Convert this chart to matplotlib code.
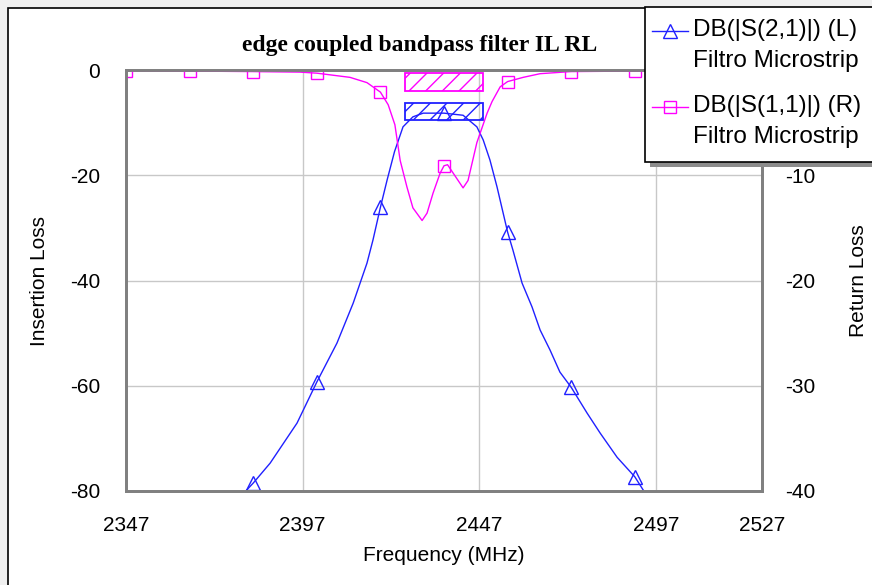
import matplotlib
matplotlib.use("Agg")
import matplotlib.pyplot as plt
from matplotlib.patches import Rectangle
from matplotlib.lines import Line2D

# frequency points (MHz) and their values (dB)
s21_freq = [2379.5, 2383, 2387.8, 2395.4, 2401, 2406.7, 2411.3, 2415.2, 2416.9,
            2419, 2420.9, 2423.0, 2425.4, 2428.2, 2431.1, 2437, 2442.4, 2446.3,
            2448.1, 2450.0, 2452.0, 2455, 2456.5, 2459.1, 2461.9, 2464.2, 2467.0,
            2469.8, 2473, 2477.5, 2481.2, 2486.0, 2491, 2494.5]
s21_db = [-81.0, -78.5, -74.7, -67.1, -59.3, -51.9, -44.3, -36.7, -32.3,
          -26.1, -20.9, -15.5, -10.8, -8.9, -8.2, -8.2, -8.6, -10.8,
          -13.3, -17.1, -22.2, -30.8, -34.2, -40.5, -45.0, -49.4, -53.2,
          -57.4, -60.3, -65.2, -69.0, -73.6, -77.3, -81.0]

s11_freq = [2347, 2365, 2383, 2396.2, 2401, 2410.4, 2415.2, 2419, 2421.2, 2423.1,
            2424.6, 2426.5, 2428.2, 2430.8, 2432.2, 2433.9, 2435.9, 2437, 2438,
            2439.6, 2442.4, 2443.8, 2446.3, 2449.2, 2450.6, 2452.9, 2455, 2459.4,
            2464.2, 2473, 2491, 2509, 2527]
s11_db = [-0.05, -0.1, -0.15, -0.2, -0.3, -0.7, -1.2, -2.1, -3.3, -5.2,
          -8.6, -11.1, -13.1, -14.3, -13.6, -11.7, -9.8, -9.1, -9.0,
          -9.8, -11.2, -10.5, -6.9, -4.1, -3.0, -1.6, -1.1, -0.7,
          -0.35, -0.15, -0.1, -0.05, -0.05]

marker_freqs = [2347, 2365, 2383, 2401, 2419, 2437, 2455, 2473, 2491, 2509, 2527]

x_ticks = [2347, 2397, 2447, 2497, 2527]
left_ticks = [0, -20, -40, -60, -80]
right_ticks = [-10, -20, -30, -40]   # the 0 label sits under the legend

# goal boxes (frequency range, dB range)
goal_freq = [2426, 2448]
s21_goal = [-9.5, -6.3]
s11_goal = [-2.0, -0.3]

title = "edge coupled bandpass filter IL RL"
legend_s21 = ["DB(|S(2,1)|) (L)", "Filtro Microstrip"]
legend_s11 = ["DB(|S(1,1)|) (R)", "Filtro Microstrip"]

blue = "#2020ff"
magenta = "#ff00ff"
spine_gray = "#808080"
grid_gray = "#c8c8c8"

W, H = 872, 585


def fx(px):
    return px / W


def fy(py):
    return 1 - py / H


plt.rcParams["font.family"] = ["Liberation Sans", "DejaVu Sans"]
plt.rcParams["axes.unicode_minus"] = False

fig = plt.figure(figsize=(8.72, 5.85), dpi=100)
fig.patch.set_facecolor("#f0f0f0")
fig.patches.append(Rectangle((fx(8), -0.1), 1.2, fy(8) + 0.1,
                             transform=fig.transFigure, facecolor="white",
                             edgecolor="black", linewidth=1.2, zorder=-5))

ax1 = fig.add_axes([fx(126), 94 / H, 636 / W, 421 / H])
ax2 = ax1.twinx()

m21 = [i for i, f in enumerate(s21_freq) if f in marker_freqs]
m11 = [i for i, f in enumerate(s11_freq) if f in marker_freqs]

ax1.plot(s21_freq, s21_db, color=blue, lw=1, marker="^", markersize=10,
         markerfacecolor="none", markeredgecolor=blue, markevery=m21)
ax2.plot(s11_freq, s11_db, color=magenta, lw=1, marker="s", markersize=9,
         markerfacecolor="none", markeredgecolor=magenta, markevery=m11)

ax1.add_patch(Rectangle((goal_freq[0], s21_goal[0]), goal_freq[1] - goal_freq[0],
                        s21_goal[1] - s21_goal[0], facecolor="none",
                        edgecolor=blue, hatch="//", lw=1.3, zorder=3))
ax2.add_patch(Rectangle((goal_freq[0], s11_goal[0]), goal_freq[1] - goal_freq[0],
                        s11_goal[1] - s11_goal[0], facecolor="none",
                        edgecolor=magenta, hatch="//", lw=1.3, zorder=3))

ax1.set_xlim(2347, 2527)
ax1.set_ylim(-80, 0)
ax2.set_ylim(-40, 0)
ax1.set_xticks(x_ticks)
ax1.set_yticks(left_ticks)
ax2.set_yticks(right_ticks)
ax1.grid(True, color=grid_gray, lw=1)
ax1.set_axisbelow(True)

for ax in (ax1, ax2):
    for s in ax.spines.values():
        s.set_color(spine_gray)
        s.set_linewidth(2)
    ax.tick_params(length=0, labelsize=15)
ax1.tick_params(axis="y", pad=18.5)
ax1.tick_params(axis="x", pad=18)
ax2.tick_params(axis="y", pad=17)
ax2.patch.set_visible(False)

ax1.set_xlabel("Frequency (MHz)", fontsize=15, labelpad=8)
ax1.set_ylabel("Insertion Loss", fontsize=15, labelpad=15)
ax2.set_ylabel("Return Loss", fontsize=15, labelpad=24)

fig.text(fx(420), fy(46), title, ha="center", va="center",
         fontsize=17, fontweight="bold", family="Liberation Serif")

# legend box drawn by hand so the handle sits on the first text line
fig.patches.append(Rectangle((fx(650), fy(167)), 0.4, fy(12) - fy(167),
                             transform=fig.transFigure, facecolor="#8c8c8c",
                             edgecolor="none", zorder=10))
fig.patches.append(Rectangle((fx(645), fy(162)), 0.4, fy(7) - fy(162),
                             transform=fig.transFigure, facecolor="white",
                             edgecolor="black", lw=1.2, zorder=11))
for color, mk, ms, texts, y0 in [(blue, "^", 10, legend_s21, 30),
                                 (magenta, "s", 9, legend_s11, 106)]:
    fig.lines.append(Line2D([fx(652), fx(688)], [fy(y0 + 1)] * 2,
                            transform=fig.transFigure, color=color, lw=1, zorder=12))
    fig.lines.append(Line2D([fx(670)], [fy(y0 + 1)], transform=fig.transFigure,
                            color=color, marker=mk, markersize=ms,
                            markerfacecolor="none", zorder=12))
    for k, t in enumerate(texts):
        fig.text(fx(693), fy(y0 + 31 * k), t, ha="left", va="center",
                 fontsize=17.5, zorder=12)

fig.savefig("out.png", dpi=100, facecolor=fig.get_facecolor())
